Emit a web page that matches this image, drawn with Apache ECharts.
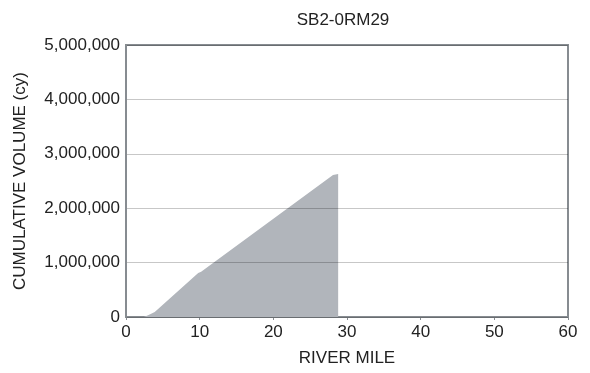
<!DOCTYPE html>
<html><head><meta charset="utf-8">
<script src="https://cdn.jsdelivr.net/npm/echarts@6/dist/echarts.min.js"></script>
<style>html,body{margin:0;padding:0;background:#fff}#c{width:590px;height:373px}</style>
</head><body><div id="c"></div>
<script>
const riverMile = [0, 2.4, 3.0, 3.9, 9.8, 10.2, 28.1, 28.8, 28.8, 60];
const cumVolume = [0, 0, 30000, 90000, 810000, 830000, 2610000, 2630000, 0, 0];
const xTicks = [0, 10, 20, 30, 40, 50, 60];
const yTicks = [0, 1000000, 2000000, 3000000, 4000000, 5000000];
const title = 'SB2-0RM29';

const chart = echarts.init(document.getElementById('c'));
const font = 'Arial, "Liberation Sans", sans-serif';
chart.setOption({
  animation: false,
  title: { text: title, left: 338, top: 7, textAlign: 'center',
    textStyle: { fontFamily: font, fontSize: 17, fontWeight: 'normal', color: '#222' } },
  grid: { left: 126, right: 22, top: 45, bottom: 56, show: true, borderColor: '#878c91', borderWidth: 2, backgroundColor: 'transparent' },
  xAxis: { type: 'value', min: xTicks[0], max: xTicks[xTicks.length-1], interval: 10,
    name: 'RIVER MILE', nameLocation: 'middle', nameGap: 33,
    nameTextStyle: { fontFamily: font, fontSize: 17, color: '#222' },
    axisLine: { lineStyle: { color: '#878c91', width: 2 } },
    axisTick: { show: true, length: 3, lineStyle: { color: '#878c91' } },
    axisLabel: { fontFamily: font, fontSize: 17, color: '#222', margin: 7 },
    splitLine: { show: false } },
  yAxis: { type: 'value', min: yTicks[0], max: yTicks[yTicks.length-1], interval: 1000000, z: 5,
    name: 'CUMULATIVE VOLUME (cy)', nameLocation: 'middle', nameGap: 97, nameRotate: 90,
    nameTextStyle: { fontFamily: font, fontSize: 17, color: '#222' },
    axisLine: { show: true, lineStyle: { color: '#878c91', width: 2 } },
    axisTick: { show: false },
    axisLabel: { fontFamily: font, fontSize: 17, color: '#222', margin: 6,
      formatter: v => v.toLocaleString('en-US') },
    splitLine: { show: true, lineStyle: { color: 'rgba(0,0,0,0.22)', width: 1 } } },
  series: [{
    type: 'line', data: riverMile.map((x, i) => [x, cumVolume[i]]),
    showSymbol: false, lineStyle: { width: 0 },
    areaStyle: { color: '#b1b5bb', opacity: 1 }, z: 2
  }]
});
</script></body></html>
